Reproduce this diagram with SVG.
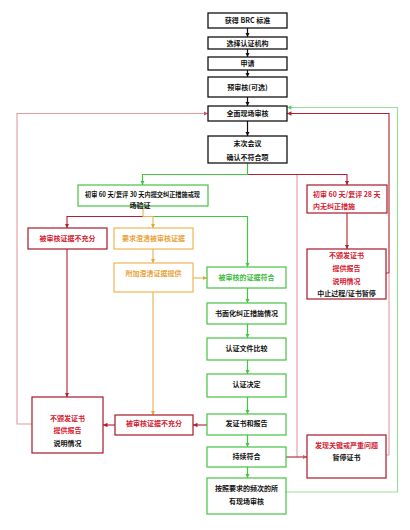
<svg xmlns="http://www.w3.org/2000/svg" width="410" height="530" viewBox="0 0 410 530">
<defs>
<style>
text{font-family:"Noto Sans CJK SC","Noto Sans",sans-serif;font-size:7px;font-weight:bold;text-anchor:middle}
.k{fill:#111}
.r{fill:#d42030}
.g{fill:#3cbc3c}
.o{fill:#e8a43c}
.bk{fill:#fff;stroke:#111;stroke-width:1.3}
.bg{fill:#fff;stroke:#44c444;stroke-width:1.2}
.br{fill:#fff;stroke:#a81828;stroke-width:1.2}
.bo{fill:#fff;stroke:#f0b455;stroke-width:1.2}
.lk{fill:none;stroke:#111;stroke-width:1.2}
.lg{fill:none;stroke:#44c444;stroke-width:1.2}
.llg{fill:none;stroke:#9ae09a;stroke-width:1.2}
.lr{fill:none;stroke:#b02030;stroke-width:1.1}
.lp{fill:none;stroke:#e49aa0;stroke-width:1.1}
.lo{fill:none;stroke:#eab050;stroke-width:1.1}
</style>
<marker id="ak" viewBox="0 0 6 6" refX="6" refY="3" markerWidth="4.5" markerHeight="4.5" orient="auto" markerUnits="userSpaceOnUse"><path d="M0,0L6,3L0,6z" fill="#111"/></marker>
<marker id="ag" viewBox="0 0 6 6" refX="6" refY="3" markerWidth="4.5" markerHeight="4.5" orient="auto" markerUnits="userSpaceOnUse"><path d="M0,0L6,3L0,6z" fill="#44c444"/></marker>
<marker id="alg" viewBox="0 0 6 6" refX="6" refY="3" markerWidth="4.5" markerHeight="4.5" orient="auto" markerUnits="userSpaceOnUse"><path d="M0,0L6,3L0,6z" fill="#66cc66"/></marker>
<marker id="ar" viewBox="0 0 6 6" refX="6" refY="3" markerWidth="4.5" markerHeight="4.5" orient="auto" markerUnits="userSpaceOnUse"><path d="M0,0L6,3L0,6z" fill="#b02030"/></marker>
<marker id="ap" viewBox="0 0 6 6" refX="6" refY="3" markerWidth="4.5" markerHeight="4.5" orient="auto" markerUnits="userSpaceOnUse"><path d="M0,0L6,3L0,6z" fill="#d05060"/></marker>
<marker id="ao" viewBox="0 0 6 6" refX="6" refY="3" markerWidth="4.5" markerHeight="4.5" orient="auto" markerUnits="userSpaceOnUse"><path d="M0,0L6,3L0,6z" fill="#e8a43c"/></marker>
</defs>
<rect width="410" height="530" fill="#fff"/>
<g id="connectors">
<path class="lk" d="M247.5 28V37" marker-end="url(#ak)"/>
<path class="lk" d="M247.5 49V57" marker-end="url(#ak)"/>
<path class="lk" d="M247.5 70V77" marker-end="url(#ak)"/>
<path class="lk" d="M247.5 97V106" marker-end="url(#ak)"/>
<path class="lk" d="M247.5 121V136" marker-end="url(#ak)"/>
<path class="lp" d="M297 174.5V457"/>
<path class="lr" d="M247.5 174.5H347V185" marker-end="url(#ar)"/>
<path class="lg" d="M247.5 163V174.5H142.5V185" marker-end="url(#ag)"/>
<path class="lr" d="M347 213V249" marker-end="url(#ar)"/>
<path class="lr" d="M386 273H389V113.5H287" marker-end="url(#ar)"/>
<path class="lp" d="M386 455H389V273"/>
<path class="llg" d="M286 492H397.5V107.5H287" marker-end="url(#alg)"/>
<path class="lp" d="M32 424H17V113.5H208" marker-end="url(#ap)"/>
<path class="lr" d="M143 216.5H67V228" marker-end="url(#ar)"/>
<path class="lg" d="M143 216.5H247.5V267" marker-end="url(#ag)"/>
<path class="lo" d="M143 206V216.5H153V228" marker-end="url(#ao)"/>
<path class="lo" d="M153 249V263" marker-end="url(#ao)"/>
<path class="lo" d="M193 278H207" marker-end="url(#ao)"/>
<path class="lo" d="M153 292V415" marker-end="url(#ao)"/>
<path class="lr" d="M67 249V397" marker-end="url(#ar)"/>
<path class="lg" d="M247.5 288V303" marker-end="url(#ag)"/>
<path class="lg" d="M247.5 324V338" marker-end="url(#ag)"/>
<path class="lg" d="M247.5 360V374" marker-end="url(#ag)"/>
<path class="lg" d="M247.5 397V414" marker-end="url(#ag)"/>
<path class="lg" d="M247.5 435V447" marker-end="url(#ag)"/>
<path class="lg" d="M247.5 467V478" marker-end="url(#ag)"/>
<path class="lr" d="M207 425H193" marker-end="url(#ar)"/>
<path class="lr" d="M115 425H103" marker-end="url(#ar)"/>
<path class="lr" d="M286 457H307" marker-end="url(#ap)"/>
</g>
<g id="n1"><rect class="bk" x="208" y="13" width="79" height="15"/><text class="k" x="247.5" y="23">获得 BRC 标准</text></g>
<g id="n2"><rect class="bk" x="208" y="37" width="79" height="12"/><text class="k" x="247.5" y="45.5">选择认证机构</text></g>
<g id="n3"><rect class="bk" x="208" y="57" width="79" height="13"/><text class="k" x="247.5" y="66">申请</text></g>
<g id="n4"><rect class="bk" x="208" y="77" width="79" height="20"/><text class="k" x="247.5" y="89.5">预审核(可选)</text></g>
<g id="n5"><rect class="bk" x="208" y="106" width="79" height="15"/><text class="k" x="247.5" y="116">全面现场审核</text></g>
<g id="n6"><rect class="bk" x="208" y="136" width="79" height="27"/><text class="k" x="247.5" y="145.5">末次会议</text><text class="k" x="247.5" y="159.5">确认不符合项</text></g>
<g id="n7"><rect class="bg" x="78" y="185" width="130" height="21"/><text class="k" x="142.5" y="196.5" textLength="115" lengthAdjust="spacingAndGlyphs">初审 60 天/复评 30 天内提交纠正措施或现</text><text class="k" x="140" y="207.5">场验证</text></g>
<g id="n8"><rect class="br" x="307" y="185" width="80" height="28"/><text class="r" x="313" y="196.5" style="text-anchor:start">初审 60 天/复评 28 天</text><text class="r" x="313" y="208.5" style="text-anchor:start">内无纠正措施</text></g>
<g id="n9"><rect class="br" x="28" y="228" width="79" height="21"/><text class="r" x="67.5" y="241">被审核证据不充分</text></g>
<g id="n10"><rect class="bo" x="114" y="228" width="79" height="21"/><text class="o" x="153.5" y="241">要求澄清被审核证据</text></g>
<g id="n11"><rect class="bo" x="114" y="263" width="79" height="29"/><text class="o" x="153.5" y="275.5">附加澄清证据提供</text></g>
<g id="n12"><rect class="bg" x="207" y="267" width="79" height="21"/><text class="g" x="246.5" y="280">被审核的证据符合</text></g>
<g id="n13"><rect class="br" x="307" y="249" width="79" height="50"/><text class="r" x="346.5" y="257.5">不颁发证书</text><text class="r" x="346.5" y="270.5">提供报告</text><text class="r" x="346.5" y="284">说明情况</text><text class="k" x="346.5" y="295.5">中止过程/证书暂停</text></g>
<g id="n14"><rect class="bg" x="207" y="303" width="79" height="21"/><text class="k" x="246.5" y="315.5">书面化纠正措施情况</text></g>
<g id="n15"><rect class="bg" x="207" y="338" width="79" height="22"/><text class="k" x="246.5" y="350.5">认证文件比较</text></g>
<g id="n16"><rect class="bg" x="207" y="374" width="79" height="23"/><text class="k" x="246.5" y="386.5">认证决定</text></g>
<g id="n17"><rect class="br" x="32" y="397" width="71" height="56"/><text class="r" x="67.5" y="420.5">不颁发证书</text><text class="r" x="67.5" y="432.5">提供报告</text><text class="k" x="67.5" y="445.5">说明情况</text></g>
<g id="n18"><rect class="br" x="115" y="415" width="78" height="20"/><text class="r" x="154" y="425.5">被审核证据不充分</text></g>
<g id="n19"><rect class="bg" x="207" y="414" width="79" height="21"/><text class="k" x="246.5" y="425.5">发证书和报告</text></g>
<g id="n20"><rect class="bg" x="207" y="447" width="79" height="20"/><text class="k" x="246.5" y="458.5">持续符合</text></g>
<g id="n21"><rect class="br" x="307" y="435" width="79" height="43"/><text class="r" x="346.5" y="447.5">发现关键或严重问题</text><text class="k" x="346.5" y="459.5">暂停证书</text></g>
<g id="n22"><rect class="bg" x="207" y="478" width="79" height="36"/><text class="k" x="246.5" y="490.5">按照要求的频次的所</text><text class="k" x="246.5" y="503.5">有现场审核</text></g>
</svg>
